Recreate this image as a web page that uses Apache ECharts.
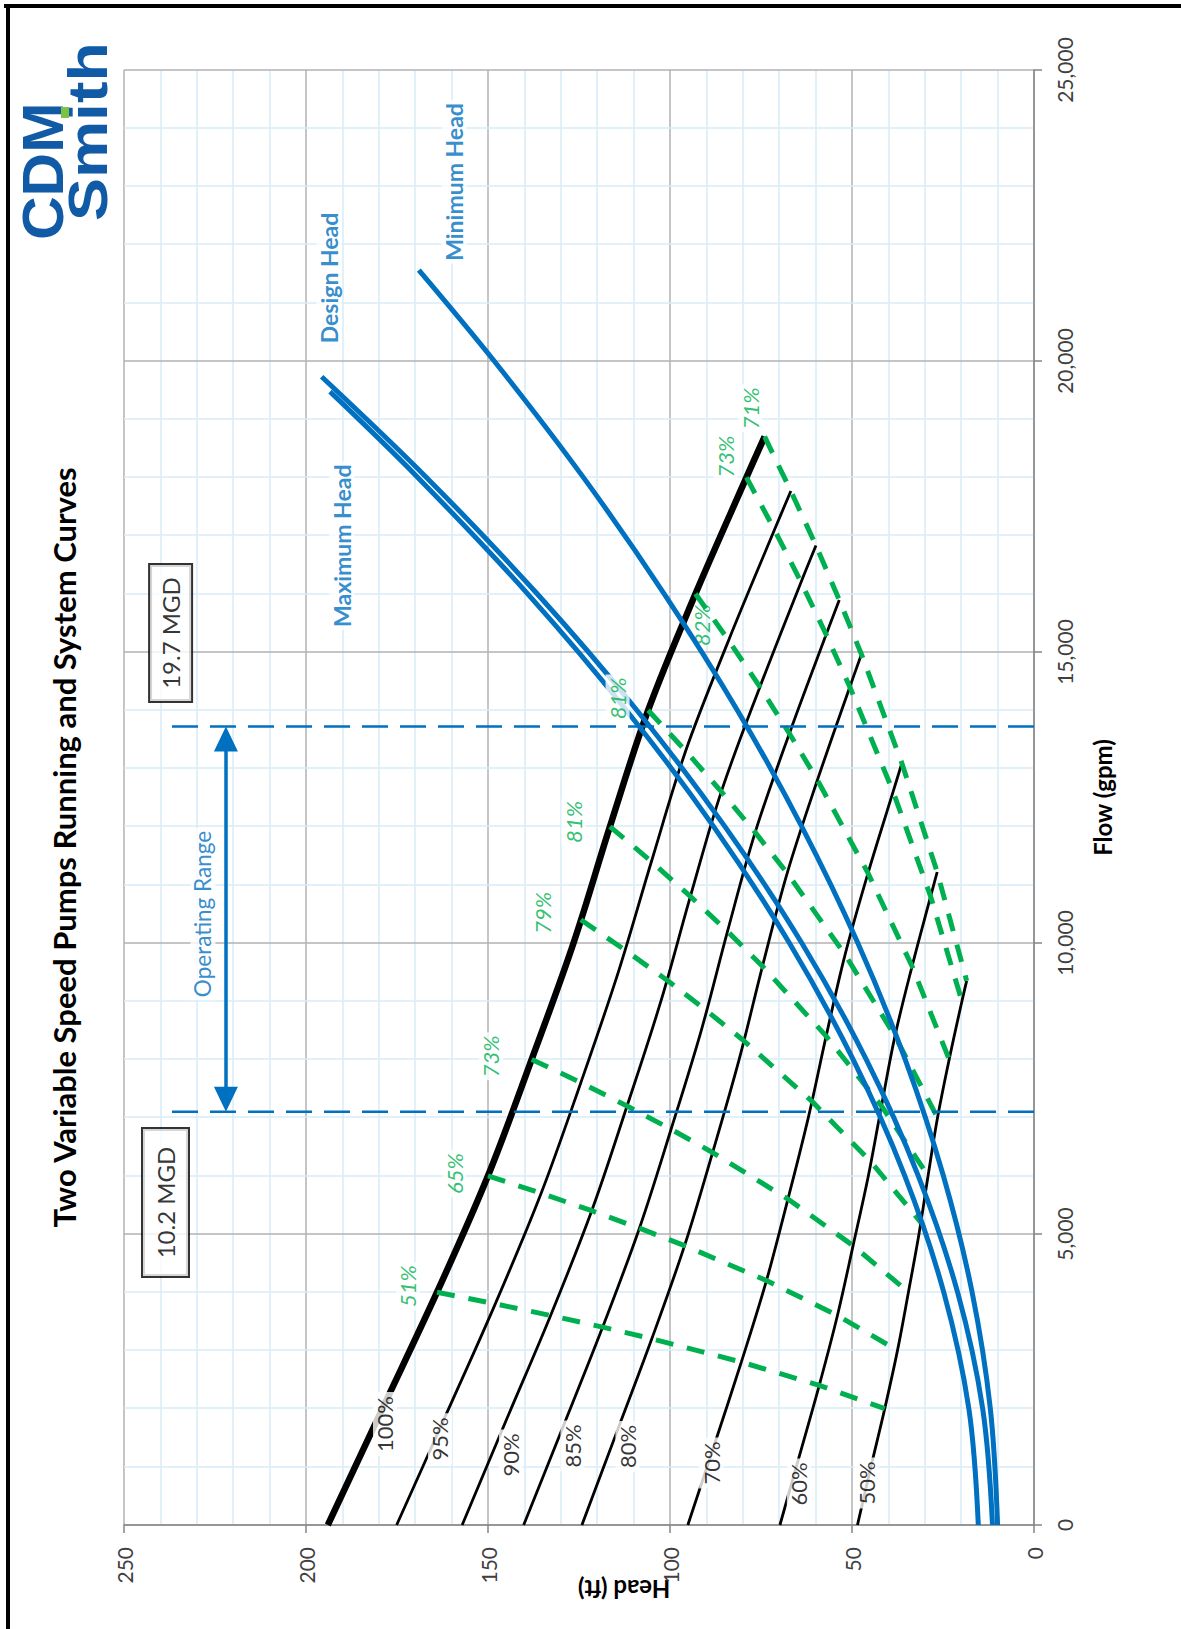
<!DOCTYPE html>
<html>
<head>
<meta charset="utf-8">
<title>Two Variable Speed Pumps Running and System Curves</title>
<script src="https://cdn.jsdelivr.net/npm/echarts@6/dist/echarts.min.js"></script>
<style>
  html, body { margin: 0; padding: 0; background: #fff; overflow: hidden; width: 1181px; height: 1629px; }
  /* The chart is laid out landscape and turned a quarter turn counter-clockwise onto the portrait page. */
  #chart {
    position: absolute; left: 0; top: 0;
    width: 1629px; height: 1181px;
    transform-origin: 0 0;
    transform: translate(0px, 1629px) rotate(-90deg);
  }
</style>
</head>
<body>
<div id="chart"></div>
<script>
// ---------- axes ----------
const flowMin = 0, flowMax = 25000, flowStep = 5000;   // gpm
const headMin = 0, headMax = 250, headStep = 50;        // ft

// ---------- pump curves at each speed: [flow gpm, head ft] ----------
const speedNames = ['100%', '95%', '90%', '85%', '80%', '70%', '60%', '50%'];
const pump100 = [[0,194],[2000,179],[4000,164],[6000,150],[8000,138],[10000,126.5],[12000,116.5],[14000,106],[16000,93],[18000,79],[18700,74]];
const pump95  = [[0,175.1],[1900,161.5],[3800,148.0],[5700,135.4],[7600,124.5],[9500,114.2],[11400,105.1],[13300,95.7],[15200,83.9],[17100,71.3],[17765,66.8]];
const pump90  = [[0,157.1],[1800,145.0],[3600,132.8],[5400,121.5],[7200,111.8],[9000,102.5],[10800,94.4],[12600,85.9],[14400,75.3],[16200,64.0],[16830,59.9]];
const pump85  = [[0,140.2],[1700,129.3],[3400,118.5],[5100,108.4],[6800,99.7],[8500,91.4],[10200,84.2],[11900,76.6],[13600,67.2],[15300,57.1],[15895,53.5]];
const pump80  = [[0,124.2],[1600,114.6],[3200,105.0],[4800,96.0],[6400,88.3],[8000,81.0],[9600,74.6],[11200,67.8],[12800,59.5],[14400,50.6],[14960,47.4]];
const pump70  = [[0,95.1],[1400,87.7],[2800,80.4],[4200,73.5],[5600,67.6],[7000,62.0],[8400,57.1],[9800,51.9],[11200,45.6],[12600,38.7],[13090,36.3]];
const pump60  = [[0,69.8],[1200,64.4],[2400,59.0],[3600,54.0],[4800,49.7],[6000,45.5],[7200,41.9],[8400,38.2],[9600,33.5],[10800,28.4],[11220,26.6]];
const pump50  = [[0,48.5],[1000,44.8],[2000,41.0],[3000,37.5],[4000,34.5],[5000,31.6],[6000,29.1],[7000,26.5],[8000,23.3],[9000,19.8],[9350,18.5]];
const speedLabelPos = [[1735,178.3],[1480,163.2],[1203,143.7],[1357,126.8],[1349,111.7],[1065,88.7],[704,64.6],[722,46.1]];

// ---------- iso-efficiency lines, 100% speed down to 50% ----------
const eff51  = [[4000,164],[3800,148.0],[3600,132.8],[3400,118.5],[3200,105.0],[2800,80.4],[2400,59.0],[2000,41.0]];
const eff65  = [[6000,150],[5700,135.4],[5400,121.5],[5100,108.4],[4800,96.0],[4200,73.5],[3600,54.0],[3000,37.5]];
const eff73a = [[8000,138],[7600,124.5],[7200,111.8],[6800,99.7],[6400,88.3],[5600,67.6],[4800,49.7],[4000,34.5]];
const eff79  = [[10400,124.5],[9880,112.4],[9360,100.8],[8840,90.0],[8320,79.7],[7280,61.0],[6240,44.8],[5200,31.1]];
const eff81a = [[12000,116.5],[11400,105.1],[10800,94.4],[10200,84.2],[9600,74.6],[8400,57.1],[7200,41.9],[6000,29.1]];
const eff81b = [[14000,106],[13300,95.7],[12600,85.9],[11900,76.6],[11200,67.8],[9800,51.9],[8400,38.2],[7000,26.5]];
const eff82  = [[16000,93],[15200,83.9],[14400,75.3],[13600,67.2],[12800,59.5],[11200,45.6],[9600,33.5],[8000,23.3]];
const eff73b = [[18000,79],[17100,71.3],[16200,64.0],[15300,57.1],[14400,50.6],[12600,38.7],[10800,28.4],[9000,19.8]];
const eff71  = [[18700,74],[17765,66.8],[16830,59.9],[15895,53.5],[14960,47.4],[13090,36.3],[11220,26.6],[9350,18.5]];
const effLabelText = ['51%', '65%', '73%', '79%', '81%', '81%', '73%', '71%'];
const effLabelPos  = [[4107,172],[6040,159.2],[8053,149.2],[10520,135.1],[12080,126.5],[14204,114.4],[18356,84.7],[19187,78]];
const eff82LabelPos = [15464, 91.3];

// ---------- system curves ----------
const sysMaximum = [[0,15.3],[2000,17.9],[4000,24.8],[6000,35.5],[8000,49.7],[10000,67.2],[12000,88.0],[14000,112.0],[16000,139.1],[18000,169.3],[19473,193.4]];
const sysDesign  = [[0,11.4],[2000,14.1],[4000,21.0],[6000,31.8],[8000,46.1],[10000,63.8],[12000,84.9],[14000,109.1],[16000,136.5],[18000,166.9],[19730,195.7]];
const sysMinimum = [[0,10.0],[2000,12.0],[4000,17.0],[6000,24.9],[8000,35.4],[10000,48.4],[12000,63.8],[14000,81.5],[16000,101.6],[18000,123.8],[20000,148.3],[21563,169]];
const sysLabelText = ['Design Head', 'Maximum Head', 'Minimum Head'];
const sysLabelPos  = [[21426,193.7],[16826,190.2],[23076,159.3]];

// ---------- operating range ----------
const mgdText   = ['10.2 MGD', '19.7 MGD'];
const mgdFlow   = [7100, 13720];
const mgdBoxPos = [[5541,238.6],[15326,237.2]];
const mgdLineTop = 238;
const rangeHead = 222;
const rangeLabelPos = [10498, 228.3];

const TITLE = 'Two Variable Speed Pumps Running and System Curves';
const BLUE = '#0070c0', GREEN = '#00b050', LOGO_BLUE = '#105aa6', LOGO_GREEN = '#7dc242';
const FONT = 'Lato';

const chart = echarts.init(document.getElementById('chart'), null, { renderer: 'svg', width: 1629, height: 1181 });

function curve(name, data, color, width, extra) {
  return Object.assign({
    name, type: 'line', data, symbol: 'none', silent: true,
    lineStyle: { color, width }, z: 2
  }, extra || {});
}

function labels(name, positions, texts, style, z) {
  return {
    name, type: 'scatter', symbolSize: 0, silent: true, z: z || 10,
    data: positions.map((p, i) => ({ value: p, label: { formatter: texts[i] } })),
    label: Object.assign({ show: true, position: 'inside', fontFamily: FONT }, style)
  };
}

const pumpSets = [pump100, pump95, pump90, pump85, pump80, pump70, pump60, pump50];
const effSets = [eff51, eff65, eff73a, eff79, eff81a, eff81b, eff82, eff73b, eff71];

const series = [];
pumpSets.forEach((d, i) => series.push(curve('Pump ' + speedNames[i], d, '#000', i === 0 ? 6.5 : 2.8,
  { smooth: 0.35, z: 2 })));
effSets.forEach((d, i) => series.push(curve('Efficiency ' + i, d, GREEN, 5,
  { lineStyle: { color: GREEN, width: 5, type: [18, 14] }, z: 3 })));
[sysDesign, sysMaximum, sysMinimum].forEach((d, i) => series.push(curve('System ' + i, d, BLUE, 5,
  { smooth: 0.35, z: 4 })));
mgdFlow.forEach((f, i) => series.push(curve('MGD ' + mgdText[i], [[f, headMin], [f, mgdLineTop]], BLUE, 2.5,
  { lineStyle: { color: BLUE, width: 2.5, type: [26, 12] }, z: 5 })));

// double-headed arrow between the two flow limits
series.push({
  name: 'Operating Range arrow', type: 'line', data: [], silent: true, z: 6,
  markLine: {
    silent: true, animation: false,
    symbol: ['triangle', 'triangle'], symbolSize: [24, 25],
    lineStyle: { color: BLUE, width: 3.5, type: 'solid' },
    label: { show: false },
    data: [[{ coord: [mgdFlow[0] + 215, rangeHead] }, { coord: [mgdFlow[1] - 215, rangeHead] }]]
  }
});

series.push(labels('speed labels', speedLabelPos, speedNames,
  { fontSize: 22, color: '#000', backgroundColor: '#fff', padding: [1, 4] }));
series.push(labels('efficiency labels', effLabelPos, effLabelText,
  { fontSize: 22, fontStyle: 'italic', color: GREEN, backgroundColor: '#fff', padding: [1, 3] }));
series.push(labels('82 label', [eff82LabelPos], ['82%'],
  { fontSize: 22, fontStyle: 'italic', color: GREEN }, 3.5));
series.push(labels('system labels', sysLabelPos, sysLabelText,
  { fontSize: 23, fontWeight: 'bold', color: BLUE, backgroundColor: '#fff', padding: [1, 3] }));
series.push(labels('range label', [rangeLabelPos], ['Operating Range'],
  { fontSize: 22.5, color: BLUE, backgroundColor: '#fff', padding: [1, 3] }));
series.push({
  name: 'MGD boxes', type: 'scatter', symbolSize: 0, silent: true, z: 10,
  data: mgdBoxPos.map((p, i) => ({
    value: p,
    label: { formatter: mgdText[i], width: i === 0 ? 147 : 136, height: i === 0 ? 45 : 41 }
  })),
  label: {
    show: true, position: 'inside', fontFamily: FONT, fontSize: 24, color: '#000',
    backgroundColor: '#fff', borderColor: '#000', borderWidth: 2, padding: 0,
    align: 'center', verticalAlign: 'middle'
  }
});

const axisGrey = '#868686';
chart.setOption({
  animation: false,
  textStyle: { fontFamily: FONT },
  grid: { left: 104, right: 70, top: 124, bottom: 147, containLabel: false, outerBoundsMode: 'none' },
  xAxis: {
    type: 'value', min: flowMin, max: flowMax, interval: flowStep,
    axisLine: { show: true, onZero: false, lineStyle: { color: axisGrey, width: 1.5 } },
    axisTick: { show: true, length: 8, lineStyle: { color: axisGrey, width: 1.5 } },
    axisLabel: { margin: 20, fontSize: 21, color: '#404040', fontFamily: FONT,
      formatter: v => v.toLocaleString('en-US') },
    splitLine: { show: true, lineStyle: { color: '#b2b2b2', width: 1.5 } },
    minorTick: { show: false, splitNumber: 5 },
    minorSplitLine: { show: true, lineStyle: { color: '#d9edf7', width: 1.5 } },
    name: 'Flow (gpm)', nameLocation: 'middle', nameGap: 56,
    nameTextStyle: { fontSize: 24, fontWeight: 'bold', color: '#000', fontFamily: FONT }
  },
  yAxis: {
    type: 'value', min: headMin, max: headMax, interval: headStep,
    axisLine: { show: true, onZero: false, lineStyle: { color: axisGrey, width: 1.5 } },
    axisTick: { show: true, length: 8, lineStyle: { color: axisGrey, width: 1.5 } },
    axisLabel: { margin: 22, fontSize: 21, color: '#404040', fontFamily: FONT },
    splitLine: { show: true, lineStyle: { color: '#b2b2b2', width: 1.5 } },
    minorTick: { show: false, splitNumber: 5 },
    minorSplitLine: { show: true, lineStyle: { color: '#d9edf7', width: 1.5 } }
  },
  series,
  graphic: [
    { type: 'line', shape: { x1: 1623, y1: 4, x2: 1623, y2: 1181 }, style: { stroke: '#000', lineWidth: 4 } },
    { type: 'line', shape: { x1: 0, y1: 8, x2: 1625, y2: 8 }, style: { stroke: '#000', lineWidth: 4 } },
    { type: 'text', x: 781.5, y: 63.5,
      style: { text: TITLE, font: 'bold 31px ' + FONT, fill: '#000',
        textAlign: 'center', textVerticalAlign: 'middle', align: 'center', verticalAlign: 'middle' } },
    { type: 'text', x: 40, y: 624, rotation: Math.PI / 2,
      style: { text: 'Head (ft)', font: 'bold 24px ' + FONT, fill: '#000',
        textAlign: 'center', textVerticalAlign: 'middle', align: 'center', verticalAlign: 'middle' } },
    { type: 'text', x: 1389, y: 43, scaleX: 1.06,
      style: { text: 'CDM', font: 'bold 57px "Liberation Sans"', fill: LOGO_BLUE,
        textAlign: 'left', textVerticalAlign: 'middle', align: 'left', verticalAlign: 'middle' } },
    { type: 'text', x: 1408, y: 88, scaleX: 1.17,
      style: { text: 'Smith', font: 'bold 55px "Liberation Sans"', fill: LOGO_BLUE,
        textAlign: 'left', textVerticalAlign: 'middle', align: 'left', verticalAlign: 'middle' } },
    { type: 'rect', shape: { x: 1511, y: 61, width: 11, height: 8 }, style: { fill: LOGO_GREEN } }
  ]
});
</script>
</body>
</html>
